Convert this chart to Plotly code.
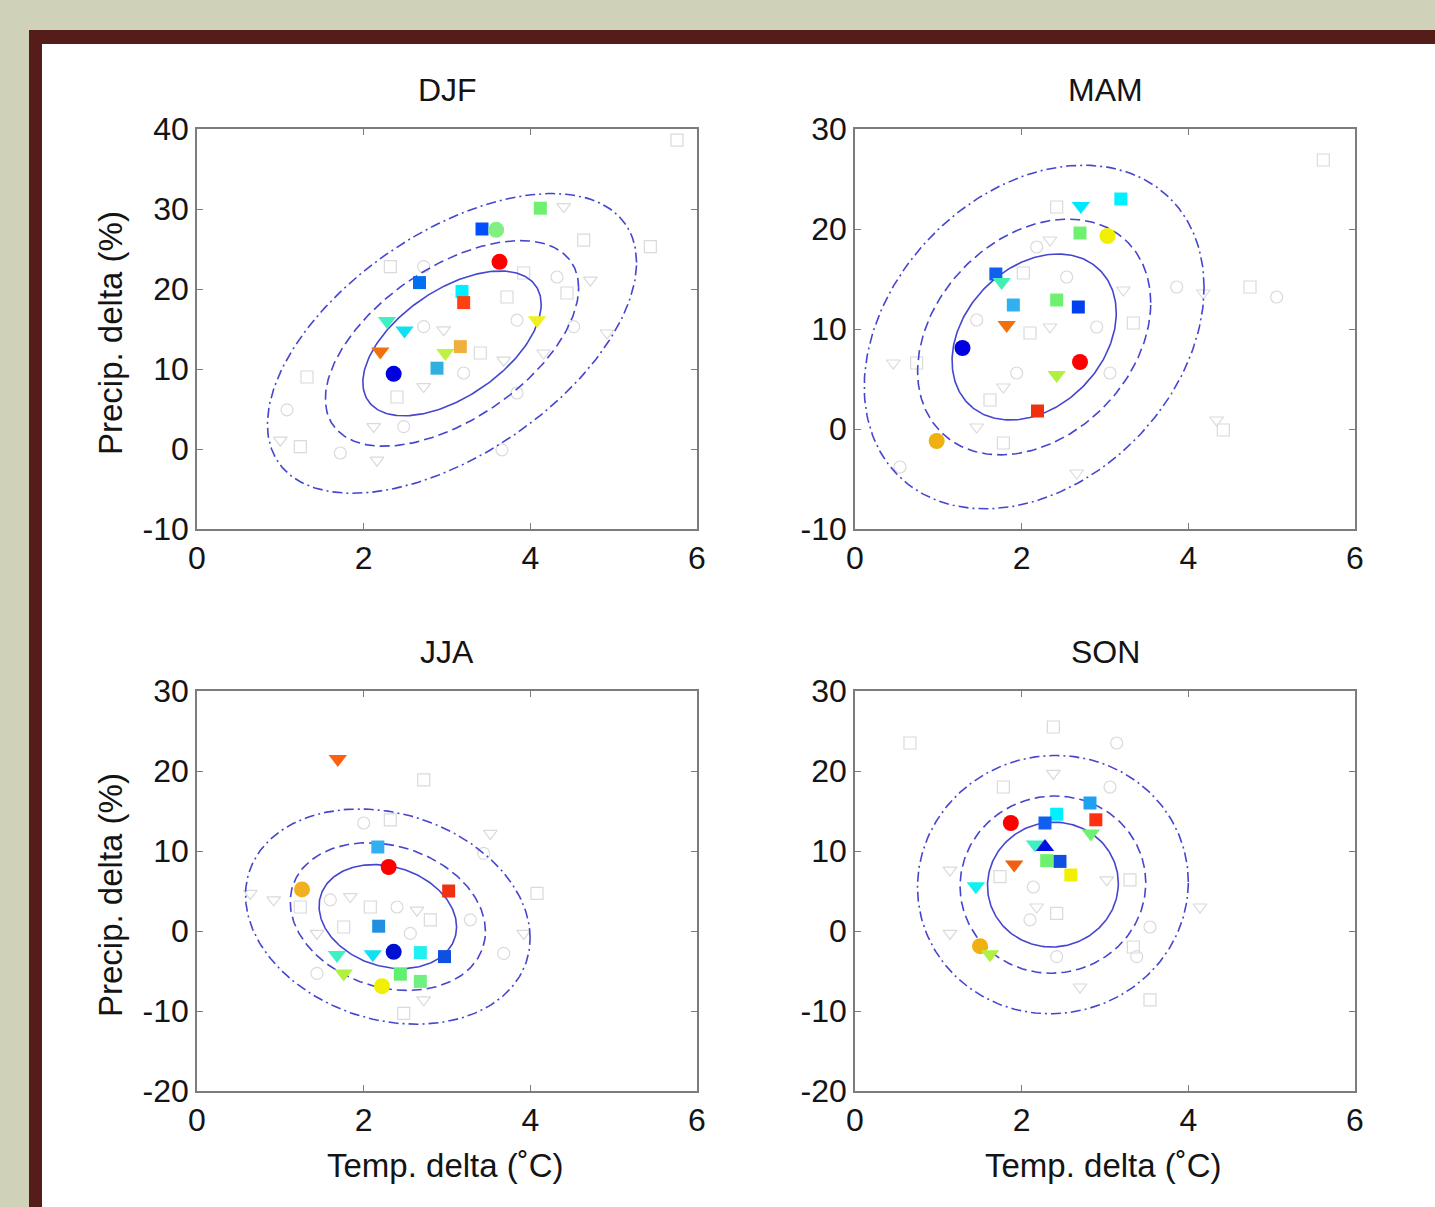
import numpy as np
import plotly.graph_objects as go

W, H = 1435, 1207

# ---- data ----
seasons = ["DJF", "MAM", "JJA", "SON"]
y_ticks = [[-10, 0, 10, 20, 30, 40], [-10, 0, 10, 20, 30], [-20, -10, 0, 10, 20, 30], [-20, -10, 0, 10, 20, 30]]
x_ticks = [0, 2, 4, 6]

# coloured (model) markers
djf_x = [3.42, 3.59, 4.12, 3.63, 2.67, 3.18, 3.20, 2.28, 2.49, 4.08, 2.20, 2.98, 3.16, 2.88, 2.36]
djf_y = [27.5, 27.4, 30.1, 23.4, 20.8, 19.7, 18.3, 16.0, 14.8, 16.1, 12.2, 12.0, 12.8, 10.1, 9.4]
djf_sym = ["square", "circle", "square", "circle", "square", "square", "square", "triangle-down",
           "triangle-down", "triangle-down", "triangle-down", "triangle-down", "square", "square", "circle"]
djf_col = ["#0050ff", "#80f080", "#70f070", "#ff0000", "#0070f0", "#00f0ff", "#ff4010", "#40f0c0",
           "#10e0f0", "#f0f020", "#f07010", "#c0f040", "#f0b040", "#30b0e0", "#0000e0"]

mam_x = [3.19, 2.71, 2.70, 3.03, 1.69, 1.76, 1.90, 2.42, 2.68, 1.82, 1.29, 2.70, 2.42, 2.19, 0.98]
mam_y = [23.0, 22.3, 19.6, 19.3, 15.5, 14.7, 12.4, 12.9, 12.2, 10.4, 8.1, 6.7, 5.4, 1.8, -1.2]
mam_sym = ["square", "triangle-down", "square", "circle", "square", "triangle-down", "square", "square",
           "square", "triangle-down", "circle", "circle", "triangle-down", "square", "circle"]
mam_col = ["#00f0ff", "#00e8ff", "#70f070", "#f0f000", "#1060f0", "#40f0b0", "#30b0f0", "#70f070",
           "#0040f0", "#f07010", "#0000e0", "#ff0000", "#b0f040", "#f03010", "#f0b010"]

jja_x = [1.69, 2.17, 2.30, 1.26, 3.02, 2.18, 1.68, 2.11, 2.36, 2.68, 2.97, 1.76, 2.44, 2.68, 2.22]
jja_y = [21.5, 10.5, 8.0, 5.2, 5.0, 0.6, -3.0, -2.9, -2.6, -2.7, -3.2, -5.3, -5.4, -6.3, -6.9]
jja_sym = ["triangle-down", "square", "circle", "circle", "square", "square", "triangle-down",
           "triangle-down", "circle", "square", "square", "triangle-down", "square", "square", "circle"]
jja_col = ["#ff6010", "#30b0f0", "#ff0000", "#f0b020", "#f03010", "#2090e0", "#40f0c0", "#10e0f0",
           "#0010d0", "#20f0f0", "#1050e0", "#b0f040", "#60f070", "#70f080", "#f0f000"]

son_x = [2.82, 2.42, 1.87, 2.28, 2.89, 2.83, 2.16, 2.28, 2.30, 2.46, 1.91, 2.59, 1.45, 1.50, 1.62]
son_y = [16.0, 14.6, 13.5, 13.5, 13.9, 12.2, 10.8, 10.5, 8.8, 8.7, 8.3, 7.0, 5.6, -1.9, -2.9]
son_sym = ["square", "square", "circle", "square", "square", "triangle-down", "triangle-down",
           "triangle-up", "square", "square", "triangle-down", "square", "triangle-down", "circle",
           "triangle-down"]
son_col = ["#20a0f0", "#00f0ff", "#ff0000", "#1060f0", "#ff3010", "#70f070", "#40f0c0", "#0010e0",
           "#70f070", "#1050e0", "#f06010", "#f0f000", "#10f0f0", "#f0b010", "#b0f040"]

# faint grey ensemble markers
djf_gx = [2.32, 2.72, 4.40, 4.64, 4.32, 4.72, 4.44, 4.52, 4.92, 5.44, 3.84, 3.68, 3.40, 3.20, 2.72, 2.40,
          2.48, 2.12, 1.32, 1.08, 1.00, 1.24, 1.72, 2.16, 3.72, 3.84, 4.16, 3.92, 2.72, 2.96, 5.76, 3.66]
djf_gy = [22.8, 22.8, 30.3, 26.1, 21.5, 21.1, 19.5, 15.3, 14.5, 25.3, 7.0, 11.1, 12.0, 9.5, 7.8, 6.5,
          2.8, 2.8, 9.0, 4.9, 1.1, 0.3, -0.5, -1.4, 19.0, 16.1, 12.0, 22.0, 15.3, 14.9, 38.6, -0.1]
mam_gx = [2.42, 2.18, 2.34, 2.02, 2.54, 3.22, 3.34, 3.86, 4.18, 4.74, 5.06, 4.34, 4.42, 2.90, 2.34, 2.10,
          1.46, 0.46, 0.74, 1.94, 1.78, 1.62, 3.06, 1.46, 1.78, 0.54, 2.66, 5.62]
mam_gy = [22.2, 18.2, 18.9, 15.6, 15.2, 13.9, 10.6, 14.2, 13.6, 14.2, 13.2, 0.9, -0.1, 10.2, 10.2, 9.6,
          10.9, 6.6, 6.6, 5.6, 4.2, 2.9, 5.6, 0.2, -1.4, -3.8, -4.4, 26.9]
jja_gx = [2.72, 2.00, 0.92, 1.24, 1.60, 1.84, 2.08, 2.40, 2.64, 2.80, 3.28, 1.44, 1.76, 2.56, 3.92, 4.08,
          3.44, 3.52, 2.32, 3.68, 2.72, 2.48, 1.44, 0.64]
jja_gy = [18.9, 13.5, 3.9, 3.0, 3.9, 4.3, 3.0, 3.0, 2.6, 1.4, 1.4, -0.3, 0.5, -0.3, -0.3, 4.7,
          9.7, 12.2, 13.9, -2.8, -8.6, -10.3, -5.3, 4.7]
son_gx = [2.38, 3.14, 2.38, 1.78, 3.06, 1.14, 1.74, 2.14, 2.18, 2.42, 2.10, 3.02, 3.30, 3.54, 4.14, 3.34,
          3.38, 2.70, 3.54, 2.42, 1.14, 0.66]
son_gy = [25.5, 23.5, 19.7, 18.0, 18.0, 7.6, 6.8, 5.5, 3.0, 2.2, 1.4, 6.4, 6.4, 0.5, 3.0, -2.0,
          -3.2, -7.0, -8.6, -3.2, -0.3, 23.5]

# covariance ellipses: centre, inner half-widths, correlation; three levels
ell_cx = [3.06, 2.15, 2.29, 2.375]
ell_cy = [13.2, 9.2, 1.8, 5.8]
ell_sx = [1.07, 0.985, 0.825, 0.785]
ell_sy = [9.05, 8.3, 6.5, 7.8]
ell_rho = [0.54, 0.29, -0.20, 0.02]
ell_levels = [1.0, 1.42, 2.07]

panels = [
    (djf_x, djf_y, djf_sym, djf_col, djf_gx, djf_gy),
    (mam_x, mam_y, mam_sym, mam_col, mam_gx, mam_gy),
    (jja_x, jja_y, jja_sym, jja_col, jja_gx, jja_gy),
    (son_x, son_y, son_sym, son_col, son_gx, son_gy),
]

# ---- layout geometry (pixels) ----
px_left = [197, 855, 197, 855]
px_top = [129, 129, 691, 691]
pw, ph = 500, 400

ell_dash = ["solid", "10px,5px", "10px,4px,2px,4px"]
grey_syms = ["square-open", "circle-open", "triangle-down-open"]
sizes = {"square": 13, "circle": 16, "triangle-down": 16, "triangle-up": 16}

fig = go.Figure()
font = "Liberation Sans, Arial, Helvetica, sans-serif"

for i, (mx, my, msym, mcol, gx, gy) in enumerate(panels):
    ax = "" if i == 0 else str(i + 1)
    xr, yr = "x" + ax, "y" + ax

    fig.add_trace(go.Scatter(
        x=gx, y=gy, mode="markers", xaxis=xr, yaxis=yr, hoverinfo="skip",
        marker=dict(symbol=[grey_syms[j % 3] for j in range(len(gx))], size=12, opacity=1,
                    color="#dadada", line=dict(width=1.2, color="#dadada")),
    ))

    t = np.linspace(0, 2 * np.pi, 241)
    for k, dash in zip(ell_levels, ell_dash):
        ex = ell_cx[i] + k * ell_sx[i] * np.cos(t)
        ey = ell_cy[i] + k * ell_sy[i] * (ell_rho[i] * np.cos(t)
                                          + np.sqrt(1 - ell_rho[i] ** 2) * np.sin(t))
        fig.add_trace(go.Scatter(
            x=ex, y=ey, mode="lines", xaxis=xr, yaxis=yr, hoverinfo="skip",
            line=dict(color="#4545d0", width=1.6, dash=dash),
        ))

    fig.add_trace(go.Scatter(
        x=mx, y=my, mode="markers", xaxis=xr, yaxis=yr,
        marker=dict(symbol=msym, size=[sizes[s] for s in msym], color=mcol, opacity=1,
                    line=dict(width=0)),
    ))

    x0, y0 = px_left[i], px_top[i]
    yt = y_ticks[i]
    axis_style = dict(showline=True, linecolor="#7c7c7c", linewidth=1.5, mirror="ticks",
                      ticks="inside", ticklen=6, tickcolor="#7c7c7c", tickwidth=1.2,
                      showgrid=False, zeroline=False, automargin=False,
                      tickfont=dict(family=font, size=32, color="#141414"))
    fig.update_layout(**{
        "xaxis" + ax: dict(axis_style, domain=[x0 / W, (x0 + pw) / W], range=[0, 6],
                           tickvals=x_ticks, ticktext=[str(v) for v in x_ticks], anchor=yr),
        "yaxis" + ax: dict(axis_style, domain=[1 - (y0 + ph) / H, 1 - y0 / H],
                           range=[yt[0], yt[-1]], tickvals=yt,
                           ticktext=[str(v) for v in yt], anchor=xr),
    })

    fig.add_annotation(text=seasons[i], xref="paper", yref="paper",
                       x=(x0 + pw / 2) / W, y=1 - (y0 - 39) / H, showarrow=False,
                       xanchor="center", yanchor="middle",
                       font=dict(family=font, size=32, color="#141414"))
    if i in (0, 2):
        fig.add_annotation(text="Precip. delta (%)", xref="paper", yref="paper",
                           x=110 / W, y=1 - (y0 + ph / 2 + 4) / H, showarrow=False,
                           textangle=-90, xanchor="center", yanchor="middle",
                           font=dict(family=font, size=33, color="#141414"))
    if i in (2, 3):
        fig.add_annotation(text="Temp. delta (˚C)", xref="paper", yref="paper",
                           x=(x0 + pw / 2 - 2) / W, y=1 - 1165 / H, showarrow=False,
                           xanchor="center", yanchor="middle",
                           font=dict(family=font, size=33, color="#141414"))

fig.update_layout(
    width=W, height=H, autosize=False, margin=dict(l=0, r=0, t=0, b=0, pad=0),
    paper_bgcolor="#cfd1b9", plot_bgcolor="white", showlegend=False,
    shapes=[
        dict(type="rect", xref="paper", yref="paper", layer="below",
             x0=29 / W, x1=1.05, y0=-0.05, y1=1 - 30 / H,
             fillcolor="#561c1a", line=dict(width=0)),
        dict(type="rect", xref="paper", yref="paper", layer="below",
             x0=42 / W, x1=1.05, y0=-0.05, y1=1 - 44 / H,
             fillcolor="white", line=dict(width=0)),
    ],
)

fig.write_html("out.html", config={"responsive": False, "displayModeBar": False},
               post_script="document.body.style.margin='0';document.body.style.overflow='hidden';")
